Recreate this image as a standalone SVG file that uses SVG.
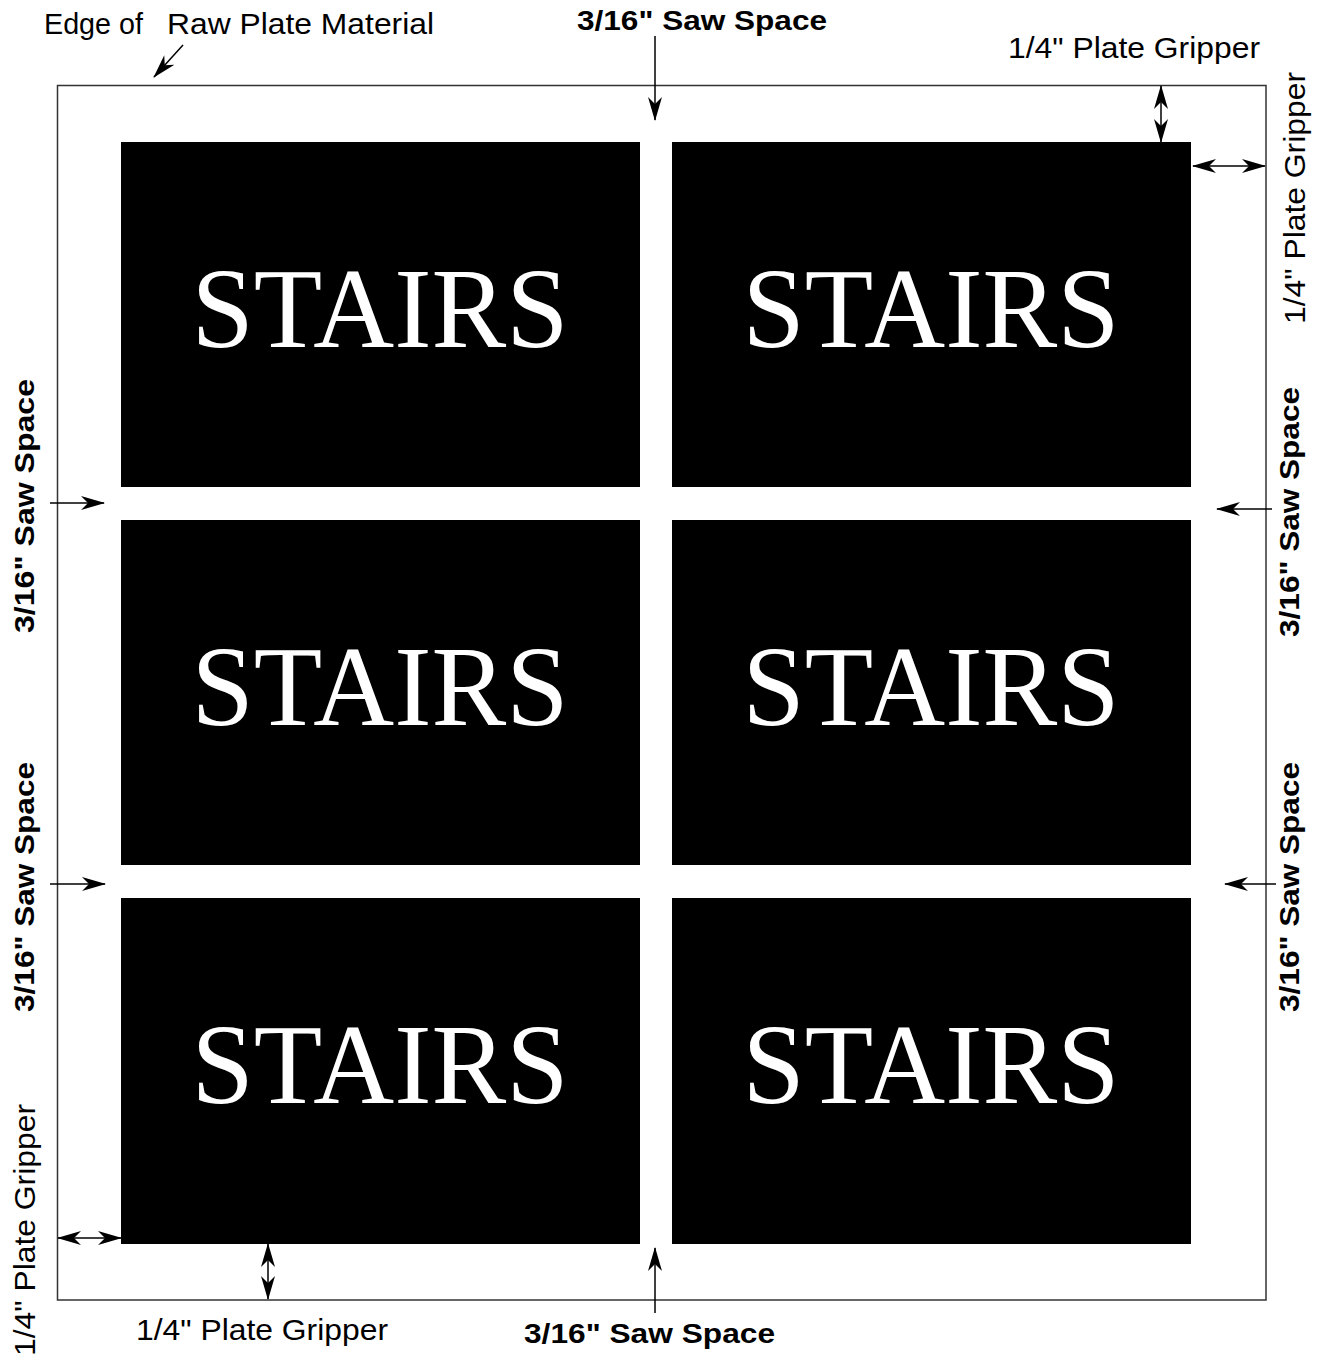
<svg xmlns="http://www.w3.org/2000/svg" width="1325" height="1359" viewBox="0 0 1325 1359">
<style>
.lbl{font-family:"Liberation Sans",Arial,sans-serif;font-size:29px;fill:#000}
.b{font-weight:bold;font-size:28px}
.sign{font-family:"Liberation Serif","Times New Roman",serif;font-size:114px;fill:#fff;text-anchor:middle}
.panel{fill:#000}
.arr{stroke:#000;stroke-width:1.5;fill:none}
</style>
<defs>
<marker id="ah" viewBox="0 0 24 14" refX="23" refY="7" markerWidth="24" markerHeight="14" markerUnits="userSpaceOnUse" orient="auto-start-reverse">
<path d="M0,0 L24,7 L0,14 L7,7 z" fill="#000"/>
</marker>
</defs>
<rect width="1325" height="1359" fill="#fff"/>
<g id="plate">
<rect x="57.5" y="85.5" width="1208.5" height="1214.5" fill="none" stroke="#333" stroke-width="1.5"/>
</g>
<g id="sign-r1c1"><rect class="panel" x="121" y="142" width="519" height="345"/><text class="sign" x="380" y="347" textLength="377" lengthAdjust="spacingAndGlyphs">STAIRS</text></g>
<g id="sign-r1c2"><rect class="panel" x="672" y="142" width="519" height="345"/><text class="sign" x="931" y="347" textLength="377" lengthAdjust="spacingAndGlyphs">STAIRS</text></g>
<g id="sign-r2c1"><rect class="panel" x="121" y="520" width="519" height="345"/><text class="sign" x="380" y="725" textLength="377" lengthAdjust="spacingAndGlyphs">STAIRS</text></g>
<g id="sign-r2c2"><rect class="panel" x="672" y="520" width="519" height="345"/><text class="sign" x="931" y="725" textLength="377" lengthAdjust="spacingAndGlyphs">STAIRS</text></g>
<g id="sign-r3c1"><rect class="panel" x="121" y="898" width="519" height="346"/><text class="sign" x="380" y="1103" textLength="377" lengthAdjust="spacingAndGlyphs">STAIRS</text></g>
<g id="sign-r3c2"><rect class="panel" x="672" y="898" width="519" height="346"/><text class="sign" x="931" y="1103" textLength="377" lengthAdjust="spacingAndGlyphs">STAIRS</text></g>
<g id="labels">
<text class="lbl" x="44" y="34" textLength="99" lengthAdjust="spacingAndGlyphs">Edge of</text>
<text class="lbl" x="167" y="34" textLength="267" lengthAdjust="spacingAndGlyphs">Raw Plate Material</text>
<text class="lbl b" x="577" y="30" textLength="250" lengthAdjust="spacingAndGlyphs">3/16" Saw Space</text>
<text class="lbl" x="1008" y="58" textLength="252" lengthAdjust="spacingAndGlyphs">1/4" Plate Gripper</text>
<text class="lbl" x="136" y="1340" textLength="252" lengthAdjust="spacingAndGlyphs">1/4" Plate Gripper</text>
<text class="lbl b" x="524" y="1343" textLength="251" lengthAdjust="spacingAndGlyphs">3/16" Saw Space</text>
<text class="lbl" transform="translate(1305,198) rotate(-90)" text-anchor="middle" textLength="252" lengthAdjust="spacingAndGlyphs">1/4" Plate Gripper</text>
<text class="lbl" transform="translate(35,1230) rotate(-90)" text-anchor="middle" textLength="252" lengthAdjust="spacingAndGlyphs">1/4" Plate Gripper</text>
<text class="lbl b" transform="translate(34,506) rotate(-90)" text-anchor="middle" textLength="254" lengthAdjust="spacingAndGlyphs">3/16" Saw Space</text>
<text class="lbl b" transform="translate(34,887) rotate(-90)" text-anchor="middle" textLength="250" lengthAdjust="spacingAndGlyphs">3/16" Saw Space</text>
<text class="lbl b" transform="translate(1299,512) rotate(-90)" text-anchor="middle" textLength="250" lengthAdjust="spacingAndGlyphs">3/16" Saw Space</text>
<text class="lbl b" transform="translate(1299,887) rotate(-90)" text-anchor="middle" textLength="250" lengthAdjust="spacingAndGlyphs">3/16" Saw Space</text>
</g>
<g id="connectors">
<line class="arr" x1="183" y1="45" x2="154" y2="77" marker-end="url(#ah)"/>
<line class="arr" x1="655" y1="36" x2="655" y2="120" marker-end="url(#ah)"/>
<line class="arr" x1="1161" y1="86" x2="1161" y2="142" marker-start="url(#ah)" marker-end="url(#ah)"/>
<line class="arr" x1="1193" y1="166" x2="1265" y2="166" marker-start="url(#ah)" marker-end="url(#ah)"/>
<line class="arr" x1="50" y1="503" x2="104" y2="503" marker-end="url(#ah)"/>
<line class="arr" x1="50" y1="884" x2="105" y2="884" marker-end="url(#ah)"/>
<line class="arr" x1="1272" y1="509" x2="1217" y2="509" marker-end="url(#ah)"/>
<line class="arr" x1="1276" y1="884" x2="1225" y2="884" marker-end="url(#ah)"/>
<line class="arr" x1="58" y1="1238" x2="121" y2="1238" marker-start="url(#ah)" marker-end="url(#ah)"/>
<line class="arr" x1="268" y1="1244" x2="268" y2="1299" marker-start="url(#ah)" marker-end="url(#ah)"/>
<line class="arr" x1="655" y1="1313" x2="655" y2="1248" marker-end="url(#ah)"/>
</g>
</svg>
